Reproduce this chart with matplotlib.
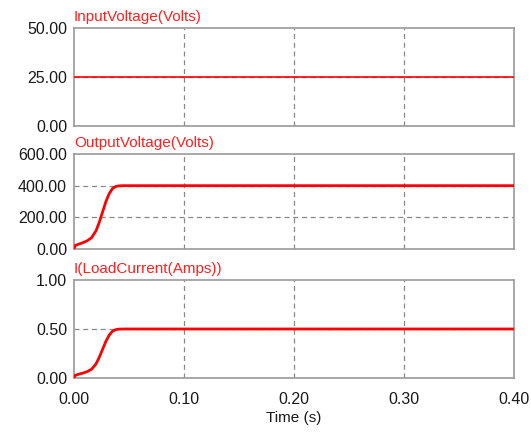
import numpy as np
import matplotlib.pyplot as plt

plt.rcParams['font.family'] = ['Liberation Sans', 'DejaVu Sans']

# simulation traces (time in seconds)
t = [0.0, 0.001, 0.004, 0.008, 0.012, 0.016, 0.02, 0.023, 0.026, 0.029, 0.032,
     0.035, 0.038, 0.041, 0.045, 0.4]
v_out = [0, 22, 30, 40, 52, 72, 115, 170, 235, 300, 350, 382, 395, 399, 400, 400]
i_load = [v / 800 for v in v_out]
v_in = [25, 25]
t_in = [0.0, 0.4]

titles = ['InputVoltage(Volts)', 'OutputVoltage(Volts)', 'I(LoadCurrent(Amps))']
ylims = [(0, 50), (0, 600), (0, 1)]
yticks = [[0, 25, 50], [0, 200, 400, 600], [0, 0.5, 1.0]]
xticks = [0, 0.1, 0.2, 0.3, 0.4]

fig = plt.figure(figsize=(5.31, 4.32), dpi=100)
boxes = [(0.1394, 0.7083, 0.8286, 0.2269),
         (0.1394, 0.4236, 0.8286, 0.2199),
         (0.1394, 0.1250, 0.8286, 0.2269)]
series = [(t_in, v_in, 1.2), (t, v_out, 2.0), (t, i_load, 2.0)]

for k, box in enumerate(boxes):
    ax = fig.add_axes(box)
    x, y, lw = series[k]
    ax.plot(x, y, color='#ff0000', lw=lw, zorder=3)
    ax.set_xlim(0, 0.4)
    ax.set_ylim(*ylims[k])
    ax.set_yticks(yticks[k])
    ax.set_yticklabels([f'{v:.2f}' for v in yticks[k]], fontsize=11.5, color='#1a1a1a')
    ax.set_xticks(xticks)
    if k == 2:
        ax.set_xticklabels([f'{v:.2f}' for v in xticks], fontsize=11.5, color='#1a1a1a')
        ax.set_xlabel('Time (s)', fontsize=11, color='#1a1a1a', labelpad=3)
    else:
        ax.set_xticklabels([])
    ax.tick_params(length=0, pad=5)
    ax.tick_params(axis='x', pad=10)
    # dashed grid only on the inner ticks
    for gx in xticks[1:-1]:
        ax.axvline(gx, color='#888888', ls=(0, (4, 3)), lw=0.9, zorder=1)
    for gy in yticks[k][1:-1]:
        ax.axhline(gy, color='#888888', ls=(0, (4, 3)), lw=0.9, zorder=1)
    for s in ax.spines.values():
        s.set_color('#999999')
        s.set_linewidth(1.2)
    ax.set_title(titles[k], loc='left', fontsize=11, color='#ff2020', pad=5)

fig.savefig('out.png', dpi=100)
